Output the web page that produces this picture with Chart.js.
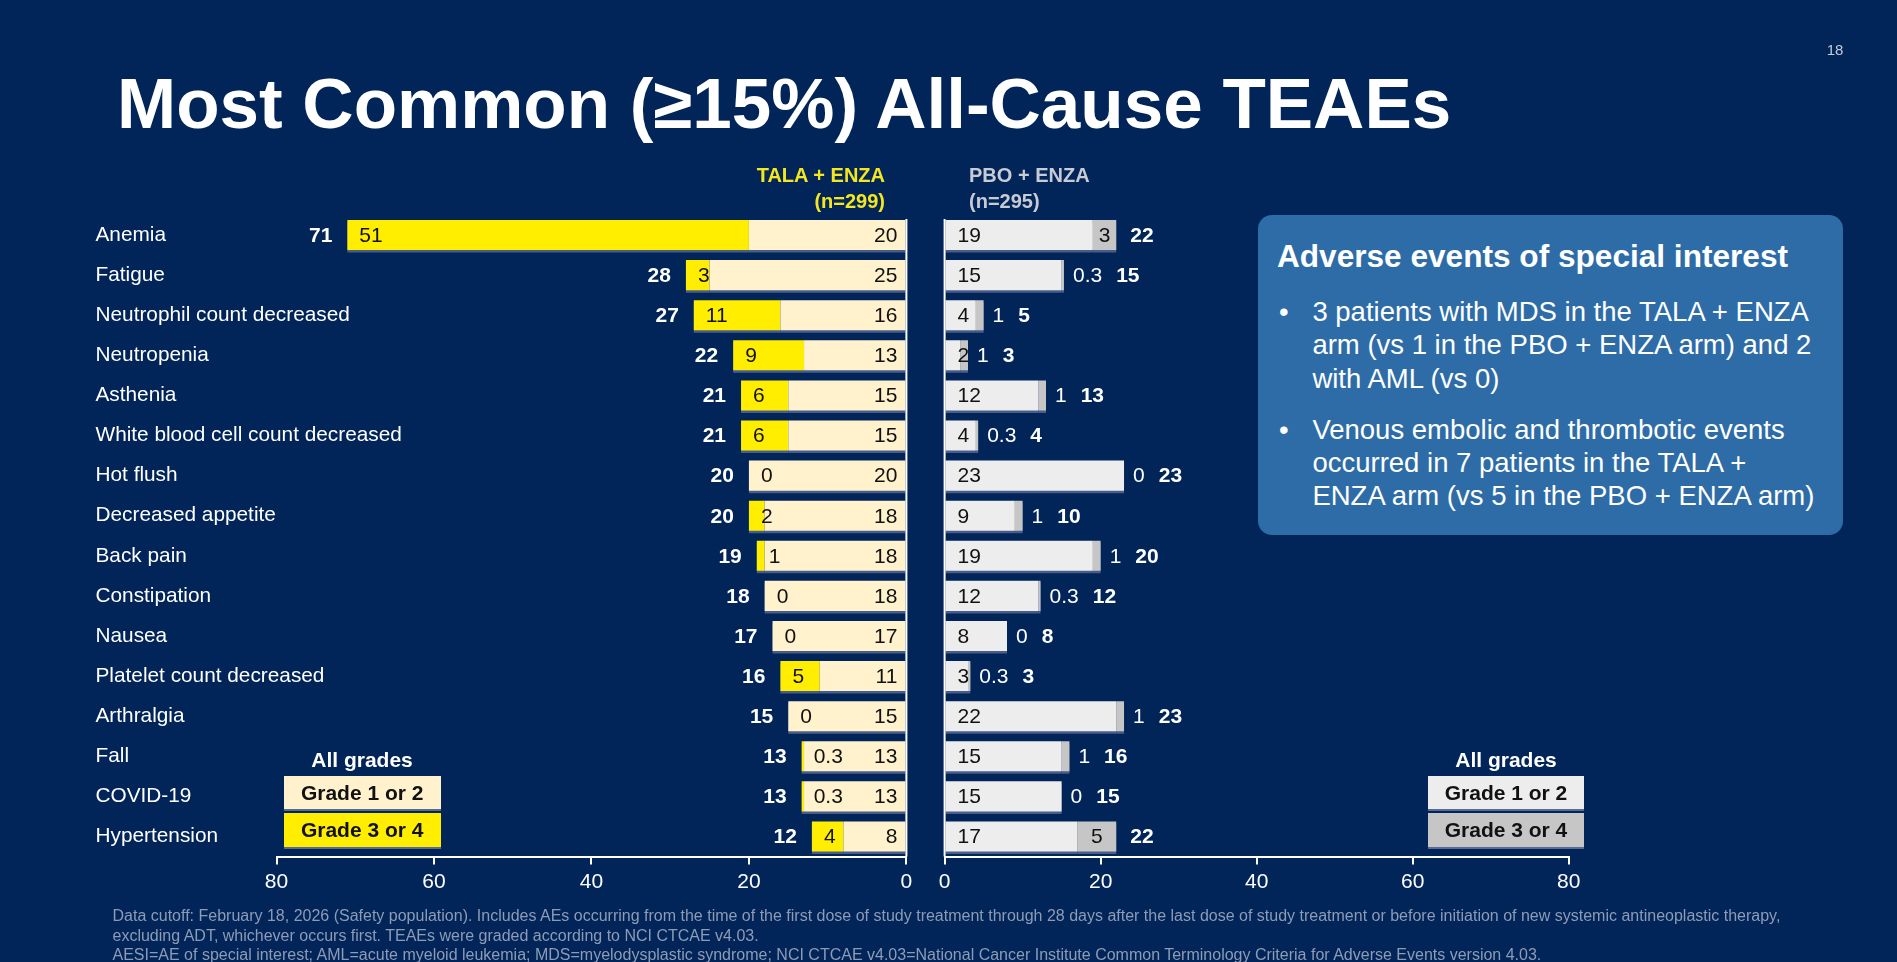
<!DOCTYPE html>
<html>
<head>
<meta charset="utf-8">
<script src="https://cdn.jsdelivr.net/npm/chart.js@4.4.1/dist/chart.umd.min.js"></script>
<style>
  html, body { margin:0; padding:0; }
  body { width:1897px; height:962px; background:#012558; position:relative; overflow:hidden;
         font-family:"Liberation Sans", Arial, sans-serif; }
  canvas { position:absolute; left:0; top:0; }
  .abs { position:absolute; white-space:nowrap; }
  .lg { position:absolute; text-align:center; font-weight:bold; font-size:21px; color:#111;
        box-shadow:0 2px 0 rgba(110,125,165,0.8); }
</style>
</head>
<body>
<canvas id="left" width="1897" height="962"></canvas>
<canvas id="right" width="1897" height="962"></canvas>

<div class="abs" style="left:1812px; top:40px; width:46px; text-align:center; line-height:20px; font-size:15px; color:#C5CBD8;">18</div>
<div class="abs" style="left:117px; top:68px; line-height:71px; font-size:71px; font-weight:bold; color:#fff;">Most Common (≥15%) All-Cause TEAEs</div>

<div class="abs" style="right:1012px; top:161.6px; line-height:26.7px; font-size:20px; font-weight:bold; color:#F5E71F; text-align:right;">TALA + ENZA<br>(n=299)</div>
<div class="abs" style="left:969px; top:161.6px; line-height:26.7px; font-size:20px; font-weight:bold; color:#C8CAD4;">PBO + ENZA<br>(n=295)</div>

<div class="abs" style="left:1258px; top:215px; width:585px; height:320px; background:#2E6CA8; border-radius:14px; color:#fff;">
  <div class="abs" style="left:19px; top:22.6px; line-height:36px; font-size:31.6px; font-weight:bold;">Adverse events of special interest</div>
  <div class="abs" style="left:21px; top:80.2px; line-height:33.3px; font-size:27.5px;">•</div>
  <div class="abs" style="left:54.4px; top:80.2px; line-height:33.3px; font-size:27.5px;">3 patients with MDS in the TALA + ENZA<br>arm (vs 1 in the PBO + ENZA arm) and 2<br>with AML (vs 0)</div>
  <div class="abs" style="left:21px; top:197.9px; line-height:33.3px; font-size:27.5px;">•</div>
  <div class="abs" style="left:54.4px; top:197.9px; line-height:33.3px; font-size:27.5px;">Venous embolic and thrombotic events<br>occurred in 7 patients in the TALA +<br>ENZA arm (vs 5 in the PBO + ENZA arm)</div>
</div>

<div class="abs" style="left:262px; top:747px; width:200px; text-align:center; line-height:26px; font-size:21px; font-weight:bold; color:#fff;">All grades</div>
<div class="lg" style="left:283.7px; top:775.7px; width:157px; height:33.3px; line-height:33.3px; background:#FFF2CC;">Grade 1 or 2</div>
<div class="lg" style="left:283.7px; top:813.3px; width:157px; height:33.3px; line-height:33.3px; background:#FFEE00;">Grade 3 or 4</div>

<div class="abs" style="left:1406px; top:747px; width:200px; text-align:center; line-height:26px; font-size:21px; font-weight:bold; color:#fff;">All grades</div>
<div class="lg" style="left:1428px; top:775.7px; width:156px; height:33.3px; line-height:33.3px; background:#EDEDED;">Grade 1 or 2</div>
<div class="lg" style="left:1428px; top:813.3px; width:156px; height:33.3px; line-height:33.3px; background:#C6C6C6;">Grade 3 or 4</div>

<div class="abs" style="left:112.5px; top:906.3px; line-height:19.4px; font-size:16px; color:#8E9BB6;">Data cutoff: February 18, 2026 (Safety population). Includes AEs occurring from the time of the first dose of study treatment through 28 days after the last dose of study treatment or before initiation of new systemic antineoplastic therapy,<br>excluding ADT, whichever occurs first. TEAEs were graded according to NCI CTCAE v4.03.<br>AESI=AE of special interest; AML=acute myeloid leukemia; MDS=myelodysplastic syndrome; NCI CTCAE v4.03=National Cancer Institute Common Terminology Criteria for Adverse Events version 4.03.</div>

<script>
const categories = ['Anemia','Fatigue','Neutrophil count decreased','Neutropenia','Asthenia',
  'White blood cell count decreased','Hot flush','Decreased appetite','Back pain','Constipation',
  'Nausea','Platelet count decreased','Arthralgia','Fall','COVID-19','Hypertension'];
const talaGrade12 = [20,25,16,13,15,15,20,18,18,18,17,11,15,13,13,8];
const talaGrade34 = [51,3,11,9,6,6,0,2,1,0,0,5,0,0.3,0.3,4];
const talaAll     = [71,28,27,22,21,21,20,20,19,18,17,16,15,13,13,12];
const pboGrade12  = [19,15,4,2,12,4,23,9,19,12,8,3,22,15,15,17];
const pboGrade34  = [3,0.3,1,1,1,0.3,0,1,1,0.3,0,0.3,1,1,0,5];
const pboAll      = [22,15,5,3,13,4,23,10,20,12,8,3,23,16,15,22];
const xTicks = [0,20,40,60,80];

const FONT = '"Liberation Sans", Arial, sans-serif';

const shadowPlugin = {
  id:'barShadow',
  beforeDatasetsDraw(c){ const ctx=c.ctx; ctx.save(); ctx.shadowColor='rgba(110,125,165,0.65)'; ctx.shadowOffsetY=2.5; ctx.shadowOffsetX=0; ctx.shadowBlur=0; },
  afterDatasetsDraw(c){ c.ctx.restore(); }
};

const zeroLinePlugin = {
  id:'zeroLine',
  afterDatasetsDraw(c){
    const {ctx, chartArea, scales:{x}} = c;
    const px = x.getPixelForValue(0);
    ctx.save();
    ctx.strokeStyle='#fff'; ctx.lineWidth=2;
    ctx.beginPath(); ctx.moveTo(px, chartArea.top+4); ctx.lineTo(px, chartArea.bottom); ctx.stroke();
    ctx.restore();
  }
};

// category labels drawn left-aligned at the outer edge of the y axis box
const categoryLabels = {
  id:'categoryLabels',
  afterDraw(c){
    const {ctx, scales:{y}} = c;
    ctx.save();
    ctx.font = '20.8px '+FONT; ctx.fillStyle='#fff'; ctx.textAlign='left'; ctx.textBaseline='middle';
    c.data.labels.forEach((lab,i)=>{ ctx.fillText(lab, y.left, y.getPixelForValue(i)); });
    ctx.restore();
  }
};

const leftLabels = {
  id:'leftLabels',
  afterDatasetsDraw(c){
    const {ctx, scales:{x,y}} = c;
    ctx.save();
    ctx.textBaseline='middle';
    categories.forEach((cat,i)=>{
      const yc = y.getPixelForValue(i)+1;
      const outer = x.getPixelForValue(talaGrade12[i]+talaGrade34[i]);
      ctx.font = '21px '+FONT; ctx.fillStyle='#111';
      ctx.textAlign='right'; ctx.fillText(String(talaGrade12[i]), x.getPixelForValue(0)-9, yc);
      ctx.textAlign='left'; ctx.fillText(String(talaGrade34[i]), outer+12, yc);
      ctx.font = 'bold 21px '+FONT; ctx.fillStyle='#fff';
      ctx.textAlign='right'; ctx.fillText(String(talaAll[i]), outer-15, yc);
    });
    ctx.restore();
  }
};

const rightLabels = {
  id:'rightLabels',
  afterDatasetsDraw(c){
    const {ctx, scales:{x,y}} = c;
    ctx.save();
    ctx.textBaseline='middle';
    categories.forEach((cat,i)=>{
      const yc = y.getPixelForValue(i)+1;
      const x0 = x.getPixelForValue(0);
      const segStart = x.getPixelForValue(pboGrade12[i]);
      const end = x.getPixelForValue(pboGrade12[i]+pboGrade34[i]);
      ctx.font = '21px '+FONT; ctx.fillStyle='#111';
      ctx.textAlign='left'; ctx.fillText(String(pboGrade12[i]), x0+13, yc);
      const s = String(pboGrade34[i]);
      const w = ctx.measureText(s).width;
      let labelEnd;
      if (end - segStart >= w + 6) {
        ctx.textAlign='center'; ctx.fillText(s, (segStart+end)/2, yc); labelEnd = end;
      } else {
        ctx.fillStyle='#fff';
        ctx.textAlign='left'; ctx.fillText(s, end+9, yc); labelEnd = end+9+w;
      }
      ctx.font = 'bold 21px '+FONT; ctx.fillStyle='#fff';
      ctx.textAlign='left'; ctx.fillText(String(pboAll[i]), labelEnd+14, yc);
    });
    ctx.restore();
  }
};

function xScale(reverse){
  return {
    stacked:true, reverse:reverse, min:0, max:80,
    afterBuildTicks(s){ s.ticks = xTicks.map(v=>({value:v})); },
    ticks:{ color:'#fff', font:{size:21, family:FONT}, padding:5, maxRotation:0 },
    grid:{ drawOnChartArea:false, drawTicks:true, tickLength:8, color:'#fff', lineWidth:2 },
    border:{ display:true, color:'#fff', width:2 },
    afterFit(s){ s.height = 105.5; }
  };
}

new Chart(document.getElementById('left'), {
  type:'bar',
  data:{ labels:categories, datasets:[
    { label:'Grade 1 or 2', data:talaGrade12, backgroundColor:'#FFF2CC' },
    { label:'Grade 3 or 4', data:talaGrade34, backgroundColor:'#FFEE00' }
  ]},
  options:{
    indexAxis:'y', responsive:false, animation:false,
    layout:{ padding:{ left:95.5, right:990.6, top:215, bottom:0 } },
    plugins:{ legend:{display:false}, tooltip:{enabled:false} },
    datasets:{ bar:{ barPercentage:0.75, categoryPercentage:1, borderWidth:0 } },
    scales:{
      x: xScale(true),
      y:{ stacked:true, grid:{display:false}, border:{display:false},
          ticks:{ display:false },
          afterFit(s){ s.width = 181; } }
    }
  },
  plugins:[shadowPlugin, zeroLinePlugin, leftLabels, categoryLabels]
});

new Chart(document.getElementById('right'), {
  type:'bar',
  data:{ labels:categories, datasets:[
    { label:'Grade 1 or 2', data:pboGrade12, backgroundColor:'#EDEDED' },
    { label:'Grade 3 or 4', data:pboGrade34, backgroundColor:'#C6C6C6' }
  ]},
  options:{
    indexAxis:'y', responsive:false, animation:false,
    layout:{ padding:{ left:944.6, right:328.3, top:215, bottom:0 } },
    plugins:{ legend:{display:false}, tooltip:{enabled:false} },
    datasets:{ bar:{ barPercentage:0.75, categoryPercentage:1, borderWidth:0 } },
    scales:{
      x: xScale(false),
      y:{ stacked:true, display:false }
    }
  },
  plugins:[shadowPlugin, zeroLinePlugin, rightLabels]
});
</script>
</body>
</html>
